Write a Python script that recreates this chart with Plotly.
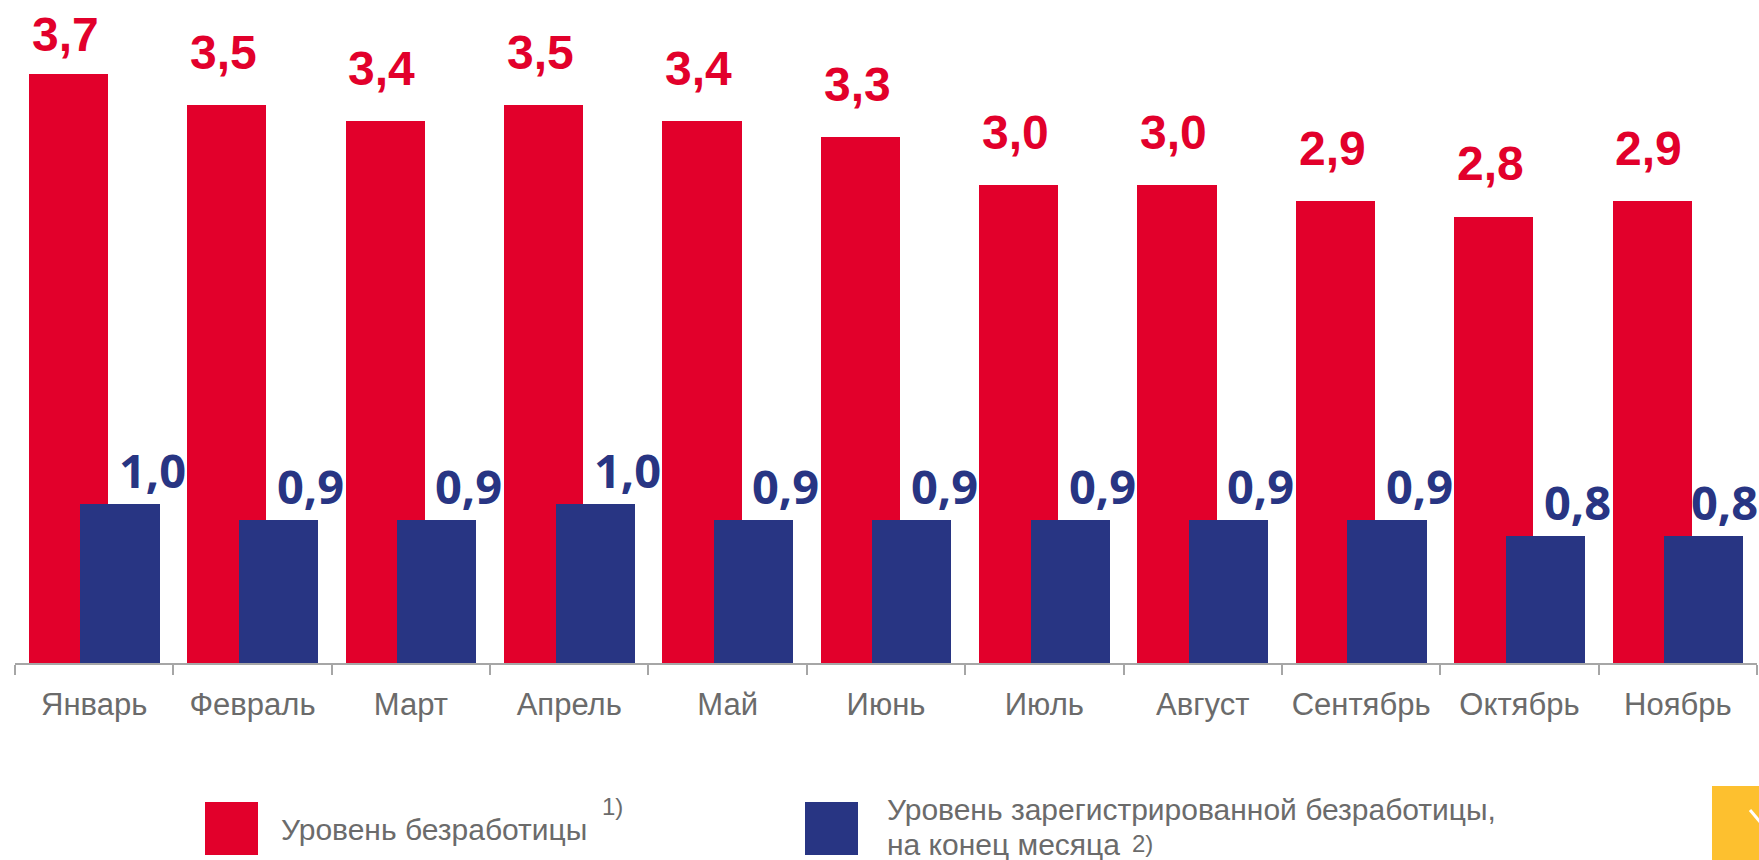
import plotly.graph_objects as go

# ---- data ----
months = ["Январь", "Февраль", "Март", "Апрель", "Май", "Июнь",
          "Июль", "Август", "Сентябрь", "Октябрь", "Ноябрь"]
unemployment = [3.7, 3.5, 3.4, 3.5, 3.4, 3.3, 3.0, 3.0, 2.9, 2.8, 2.9]
registered = [1.0, 0.9, 0.9, 1.0, 0.9, 0.9, 0.9, 0.9, 0.9, 0.8, 0.8]
legend_names = ["Уровень безработицы", "Уровень зарегистрированной безработицы,", "на конец месяца"]
footnotes = ["1)", "2)"]

RED = "#E2002B"
BLUE = "#283583"
GREY_TXT = "#6B6B6B"
AXIS_GREY = "#A6A6A6"

W, H = 1759, 860
ML, MR, MT, MB = 15, 2, 0, 197
PW, PH = W - ML - MR, H - MT - MB
PX_PER_UNIT = 159.3
N = len(months)
CAT_W = PW / N


def px(x):
    return (x - ML) / PW


def py(y):
    return (H - MB - y) / PH


def fmt(v):
    return f"{v:.1f}".replace(".", ",")


fig = go.Figure()
fig.add_trace(go.Bar(x=months, y=unemployment, name=legend_names[0],
                     marker=dict(color=RED, line=dict(width=0)),
                     width=0.5, offset=-0.412, showlegend=False, hoverinfo="x+y"))
fig.add_trace(go.Bar(x=months, y=registered, name=legend_names[1],
                     marker=dict(color=BLUE, line=dict(width=0)),
                     width=0.5, offset=-0.087, showlegend=False, hoverinfo="x+y"))

annotations = []
# value labels (kept inside the figure: clamp at the top / right edges)
for i, (m, v) in enumerate(zip(months, unemployment)):
    bar_top = MT + PH - v * PX_PER_UNIT
    centre_y = max(bar_top - 53, 34)
    annotations.append(dict(x=m, y=v, xref="x", yref="y", text=fmt(v), showarrow=False,
                            xanchor="center", yanchor="middle", xshift=-29, yshift=bar_top - centre_y,
                            font=dict(family="Liberation Sans, Arial", size=48, color=RED, weight="bold")))
for i, (m, v) in enumerate(zip(months, registered)):
    cat_c = ML + (i + 0.5) * CAT_W
    xs = min(58, (W - 35) - cat_c)
    annotations.append(dict(x=m, y=v, xref="x", yref="y", text=fmt(v), showarrow=False,
                            xanchor="center", yanchor="middle", xshift=xs, yshift=34,
                            font=dict(family="Open Sans, Liberation Sans", size=47, color=BLUE, weight="bold")))

legend_font = dict(family="Liberation Sans, Arial", size=30, color=GREY_TXT)
sup_font = dict(family="Liberation Sans, Arial", size=24, color=GREY_TXT)
annotations += [
    dict(x=px(279), y=py(829), xref="paper", yref="paper", text=legend_names[0], showarrow=False,
         xanchor="left", yanchor="middle", font=legend_font),
    dict(x=px(600), y=py(806), xref="paper", yref="paper", text=footnotes[0], showarrow=False,
         xanchor="left", yanchor="middle", font=sup_font),
    dict(x=px(885), y=py(809), xref="paper", yref="paper", text=legend_names[1], showarrow=False,
         xanchor="left", yanchor="middle", font=legend_font),
    dict(x=px(885), y=py(845), xref="paper", yref="paper", text=legend_names[2], showarrow=False,
         xanchor="left", yanchor="middle", font=legend_font),
    dict(x=px(1130), y=py(843), xref="paper", yref="paper", text=footnotes[1], showarrow=False,
         xanchor="left", yanchor="middle", font=sup_font),
]

shapes = [
    dict(type="rect", xref="paper", yref="paper", x0=px(205), x1=px(258), y0=py(855), y1=py(802),
         fillcolor=RED, line=dict(width=0), layer="above"),
    dict(type="rect", xref="paper", yref="paper", x0=px(805), x1=px(858), y0=py(855), y1=py(802),
         fillcolor=BLUE, line=dict(width=0), layer="above"),
    dict(type="rect", xref="paper", yref="paper", x0=px(1712), x1=px(1770), y0=py(870), y1=py(786),
         fillcolor="#FDC02F", line=dict(width=0), layer="above"),
    dict(type="line", xref="paper", yref="paper", x0=px(1750), x1=px(1761), y0=py(810), y1=py(823),
         line=dict(color="white", width=3), layer="above"),
]

fig.update_layout(
    width=W, height=H,
    margin=dict(l=ML, r=MR, t=MT, b=MB, pad=0),
    paper_bgcolor="white", plot_bgcolor="white",
    barmode="overlay",
    bargap=0,
    annotations=annotations,
    shapes=shapes,
    xaxis=dict(type="category", range=[-0.5, N - 0.5],
               showline=True, linecolor=AXIS_GREY, linewidth=1.5,
               ticks="outside", tickson="boundaries", ticklen=10, tickcolor=AXIS_GREY, tickwidth=1.5,
               tickfont=dict(family="Liberation Sans, Arial", size=31, color=GREY_TXT),
               ticklabelstandoff=13,
               showgrid=False, zeroline=False, fixedrange=True),
    yaxis=dict(range=[0, PH / PX_PER_UNIT], visible=False, showgrid=False, zeroline=False, fixedrange=True),
    showlegend=False,
)

fig.write_html("out.html", config={"displayModeBar": False},
               post_script="document.body.style.margin='0px';document.body.style.overflow='hidden';")
